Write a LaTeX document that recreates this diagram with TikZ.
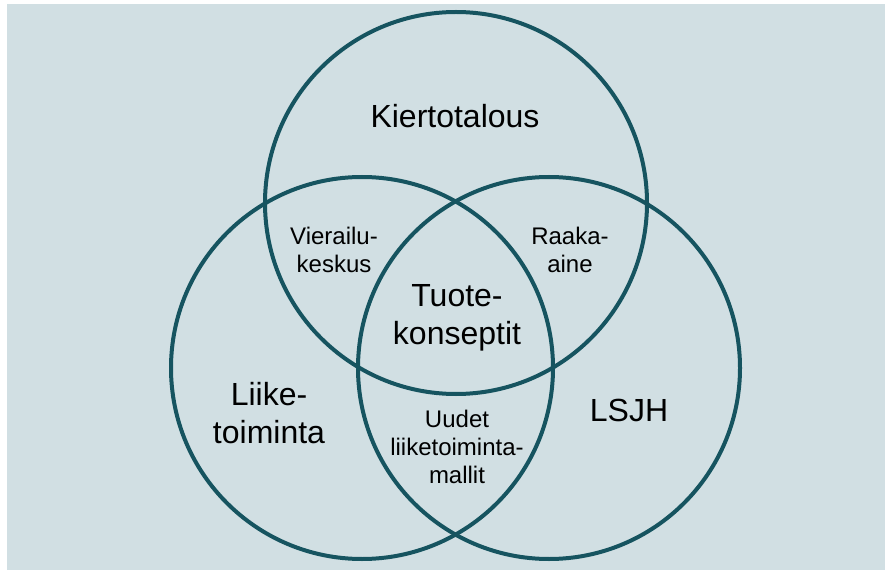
\documentclass[tikz,border=0pt]{standalone}
\usepackage{fontspec}
\setmainfont{Liberation Sans}
\usetikzlibrary{positioning}
\definecolor{bgblue}{RGB}{209, 223, 227}
\definecolor{ringteal}{RGB}{22, 84, 96}

\begin{document}
\begin{tikzpicture}[x=0.75pt, y=-0.75pt,
  ring/.style={circle, draw=ringteal, line width=3pt, minimum size=286.5pt, inner sep=0pt},
  bigtxt/.style={align=center, font=\fontsize{24}{28.5}\selectfont, inner sep=0pt},
  smalltxt/.style={align=center, font=\fontsize{18}{21}\selectfont, inner sep=0pt}]
  \useasboundingbox (0,0) rectangle (885,570);
  \fill[bgblue] (7,4) rectangle (885,570);

  % the three sets
  \node[ring] (kierto) at (456,203) {};
  \node[ring] (liike) at (362,368) {};
  \node[ring] (lsjh) at (549,368) {};

  % labels
  \node[bigtxt] (kiertotxt) at (455,116) {Kiertotalous};
  \node[bigtxt] (liiketxt) at (269,413) {Liike-\\toiminta};
  \node[bigtxt] (lsjhtxt) at (629,410) {LSJH};
  \node[bigtxt] (tuotetxt) at (457,318) {Tuote-\\konseptit};
  \node[smalltxt] (vierailutxt) at (334,250) {Vierailu-\\keskus};
  \node[smalltxt] (raakatxt) at (570,250) {Raaka-\\aine};
  \node[smalltxt] (uudettxt) at (457,447) {Uudet\\liiketoiminta-\\mallit};
\end{tikzpicture}
\end{document}
